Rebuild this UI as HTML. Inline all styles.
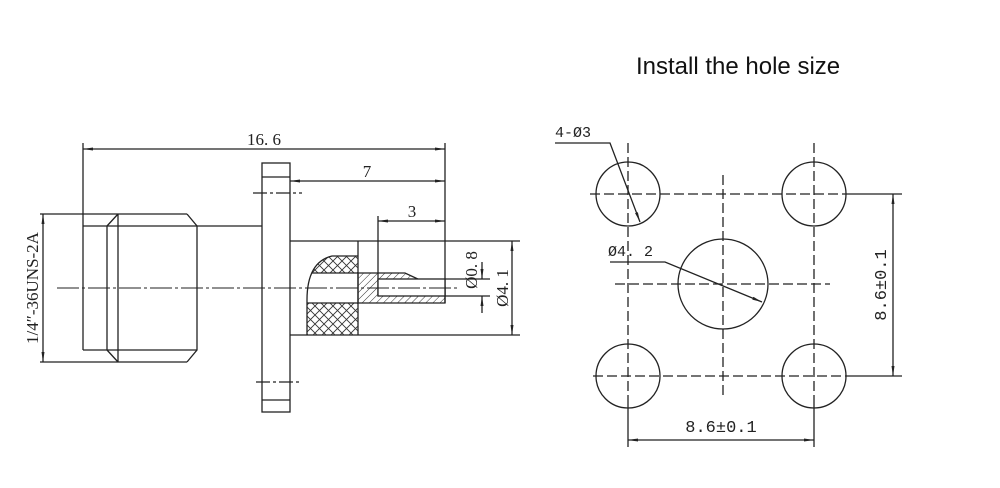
<!DOCTYPE html>
<html><head><meta charset="utf-8"><style>
html,body{margin:0;padding:0;background:#fff;}
svg{display:block;}
text{font-family:"Liberation Mono","DejaVu Sans Mono",monospace;fill:#222;}
.s{font-family:"Liberation Serif",serif;}
</style></head><body>
<svg width="1000" height="488" viewBox="0 0 1000 488" xmlns="http://www.w3.org/2000/svg">
<defs>
<pattern id="xh" width="9" height="9" patternUnits="userSpaceOnUse">
<path d="M0 0L9 9M9 0L0 9" stroke="#333" stroke-width="0.9"/>
</pattern>
<pattern id="dh" width="5" height="5" patternUnits="userSpaceOnUse" patternTransform="rotate(45)">
<path d="M0 0V5" stroke="#333" stroke-width="1"/>
</pattern>
<marker id="a" viewBox="0 0 10 6" refX="10" refY="3" markerWidth="10" markerHeight="6" orient="auto-start-reverse" markerUnits="userSpaceOnUse">
<path d="M0 1.5L10 3L0 4.5z" fill="#222"/>
</marker>
</defs>
<text x="636" y="74" style="font-family:'Liberation Sans',sans-serif;font-size:24px;fill:#111">Install the hole size</text>

<g stroke="#222" stroke-width="1.3" fill="none">
<line x1="83" y1="143" x2="83" y2="226"/>
<line x1="445" y1="143" x2="445" y2="303"/>
<line x1="83" y1="149" x2="445" y2="149" marker-start="url(#a)" marker-end="url(#a)"/>
<line x1="290" y1="181" x2="445" y2="181" marker-start="url(#a)" marker-end="url(#a)"/>
<line x1="378" y1="216" x2="378" y2="296"/>
<line x1="378" y1="221" x2="445" y2="221" marker-start="url(#a)" marker-end="url(#a)"/>
<!-- nut -->
<line x1="40" y1="214" x2="187" y2="214"/>
<line x1="40" y1="362" x2="187" y2="362"/>
<line x1="83" y1="226" x2="83" y2="350"/>
<line x1="83" y1="226" x2="262" y2="226"/>
<line x1="83" y1="350" x2="197" y2="350"/>
<path d="M107 226L118 214M107 350L118 362M107 226V350M118 214V362"/>
<path d="M187 214L197 226L197 350L187 362"/>
<line x1="43" y1="214" x2="43" y2="362" marker-start="url(#a)" marker-end="url(#a)"/>
<!-- flange -->
<rect x="262" y="163" width="28" height="249"/>
<line x1="262" y1="177" x2="290" y2="177"/>
<line x1="262" y1="400" x2="290" y2="400"/>
<line x1="253" y1="193" x2="302" y2="193" stroke-dasharray="14,3,3,3"/>
<line x1="256" y1="382" x2="300" y2="382" stroke-dasharray="14,3,3,3"/>
<!-- right body -->
<line x1="290" y1="241" x2="520" y2="241"/>
<line x1="290" y1="335" x2="520" y2="335"/>
<line x1="358" y1="241" x2="358" y2="335"/>
<path d="M358 256V273H312Q318 259 332 256Z" fill="url(#xh)" stroke="none"/>
<path d="M307 303H358V335H307Z" fill="url(#xh)" stroke="none"/>
<path d="M358 256H332Q307 262 307 300V335"/>
<path d="M312 273H358M307 303H358"/>
<path d="M358 273H405L420 280L445 287V303H358Z" fill="url(#dh)"/>
<rect x="378" y="279" width="67" height="17" fill="#fff"/>
<line x1="445" y1="279" x2="490" y2="279"/>
<line x1="445" y1="296" x2="490" y2="296"/>
<line x1="482" y1="262" x2="482" y2="279" marker-end="url(#a)"/>
<line x1="482" y1="313" x2="482" y2="296" marker-end="url(#a)"/>
<line x1="512" y1="241" x2="512" y2="335" marker-start="url(#a)" marker-end="url(#a)"/>
<line x1="57" y1="288" x2="458" y2="288" stroke-dasharray="22,3,3,3" stroke-width="1"/>
</g>
<text class="s" x="264" y="145" font-size="17" text-anchor="middle">16. 6</text>
<text class="s" x="367" y="177" font-size="17" text-anchor="middle">7</text>
<text class="s" x="412" y="217" font-size="17" text-anchor="middle">3</text>
<text class="s" transform="translate(38,288) rotate(-90)" font-size="17" text-anchor="middle">1/4″-36UNS-2A</text>
<text class="s" transform="translate(477,270) rotate(-90)" font-size="17" text-anchor="middle">Ø0. 8</text>
<text class="s" transform="translate(508,288) rotate(-90)" font-size="17" text-anchor="middle">Ø4. 1</text>

<g stroke="#222" stroke-width="1.3" fill="none">
<circle cx="628" cy="194" r="32"/><circle cx="814" cy="194" r="32"/>
<circle cx="628" cy="376" r="32"/><circle cx="814" cy="376" r="32"/>
<circle cx="723" cy="284" r="45"/>
<g stroke-dasharray="10,4">
<line x1="590" y1="194" x2="850" y2="194"/>
<line x1="593" y1="376" x2="850" y2="376"/>
<line x1="615" y1="284" x2="830" y2="284"/>
<line x1="628" y1="143" x2="628" y2="395"/>
<line x1="814" y1="143" x2="814" y2="395"/>
<line x1="723" y1="175" x2="723" y2="395"/>
</g>
<line x1="850" y1="194" x2="902" y2="194"/>
<line x1="850" y1="376" x2="902" y2="376"/>
<line x1="628" y1="395" x2="628" y2="447"/>
<line x1="814" y1="395" x2="814" y2="447"/>
<line x1="893" y1="194" x2="893" y2="376" marker-start="url(#a)" marker-end="url(#a)"/>
<line x1="628" y1="440" x2="814" y2="440" marker-start="url(#a)" marker-end="url(#a)"/>
<path d="M555 143H610L640 222" marker-end="url(#a)"/>
<path d="M610 262H665L762 302" marker-end="url(#a)"/>
</g>
<text x="555" y="137" font-size="15">4-Ø3</text>
<text x="608" y="256" font-size="15">Ø4. 2</text>
<text x="721" y="432" font-size="17" text-anchor="middle">8.6±0.1</text>
<text transform="translate(886,285) rotate(-90)" font-size="17" text-anchor="middle">8.6±0.1</text>
</svg>
</body></html>
